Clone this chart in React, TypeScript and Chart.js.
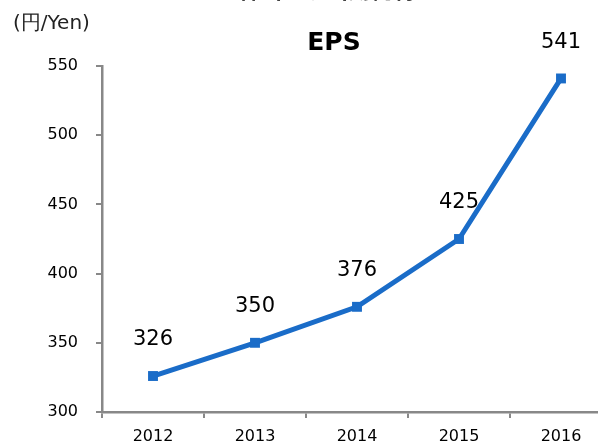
import React, { useEffect, useRef } from "react";
import { Chart, registerables } from "chart.js";

Chart.register(...registerables);

const categories = ["2012", "2013", "2014", "2015", "2016"];
const epsValues = [326, 350, 376, 425, 541];
const yTicks = [300, 350, 400, 450, 500, 550];
const unitLabel = "(円/Yen)";
const chartTitle = "EPS";
const topTitle = "1株当たり当期純利益";

const FONT = "'DejaVu Sans', Verdana, sans-serif";

export default function App() {
  const ref = useRef<HTMLCanvasElement>(null);

  useEffect(() => {
    document.body.style.margin = "0";
    document.body.style.overflow = "hidden";
    const textPlugin = {
      id: "texts",
      afterDatasetsDraw(chart: any) {
        const ctx = chart.ctx;
        ctx.save();
        ctx.fillStyle = "#000";
        ctx.textAlign = "center";
        ctx.textBaseline = "middle";
        ctx.font = `21px ${FONT}`;
        const meta = chart.getDatasetMeta(0);
        meta.data.forEach((pt: any, i: number) => {
          ctx.fillText(String(epsValues[i]), pt.x, pt.y - 36);
        });
        ctx.font = `bold 25px ${FONT}`;
        ctx.fillText(chartTitle, 334, 43);
        ctx.font = `20px ${FONT}`;
        ctx.textAlign = "left";
        ctx.fillStyle = "#222";
        ctx.fillText(unitLabel, 13, 24);
        ctx.fillStyle = "#000";
        ctx.textAlign = "center";
        ctx.textBaseline = "bottom";
        ctx.font = `bold 22px 'Noto Sans CJK JP', sans-serif`;
        ctx.fillText(topTitle, 331, 1);
        ctx.restore();
      },
    };

    const chart = new Chart(ref.current!, {
      type: "line",
      data: {
        labels: categories,
        datasets: [
          {
            data: epsValues,
            borderColor: "#1a6cc8",
            backgroundColor: "#1a6cc8",
            borderWidth: 5,
            pointStyle: "rect",
            pointRadius: 7,
            pointHoverRadius: 7,
            pointBorderWidth: 0,
            tension: 0,
          },
        ],
      },
      options: {
        responsive: false,
        animation: false,
        events: [],
        layout: { padding: { top: 66, right: 28, left: 0, bottom: 0 } },
        plugins: { legend: { display: false }, tooltip: { enabled: false }, title: { display: false } },
        scales: {
          x: {
            type: "category",
            offset: true,
            grid: {
              offset: true,
              drawOnChartArea: false,
              drawTicks: true,
              tickLength: 6,
              color: "#888",
              lineWidth: 2,
            },
            border: { display: true, color: "#888", width: 2.5 },
            ticks: { color: "#000", font: { family: FONT, size: 16 }, padding: 9 },
            afterFit: (s: any) => {
              s.height = 36;
            },
          },
          y: {
            min: 300,
            max: 550,
            afterBuildTicks: (s: any) => {
              s.ticks = yTicks.map((v) => ({ value: v }));
            },
            grid: {
              drawOnChartArea: false,
              drawTicks: true,
              tickLength: 6,
              color: "#888",
              lineWidth: 2,
            },
            border: { display: true, color: "#888", width: 2.5 },
            ticks: { color: "#000", font: { family: FONT, size: 16 }, padding: 18 },
            afterFit: (s: any) => {
              s.width = 102;
            },
          },
        },
      },
      plugins: [textPlugin],
    });
    return () => chart.destroy();
  }, []);

  return (
    <div style={{ position: "fixed", left: 0, top: 0, width: 598, height: 448, overflow: "hidden", background: "#fff" }}>
      <canvas ref={ref} width={640} height={448} style={{ display: "block" }} />
    </div>
  );
}
